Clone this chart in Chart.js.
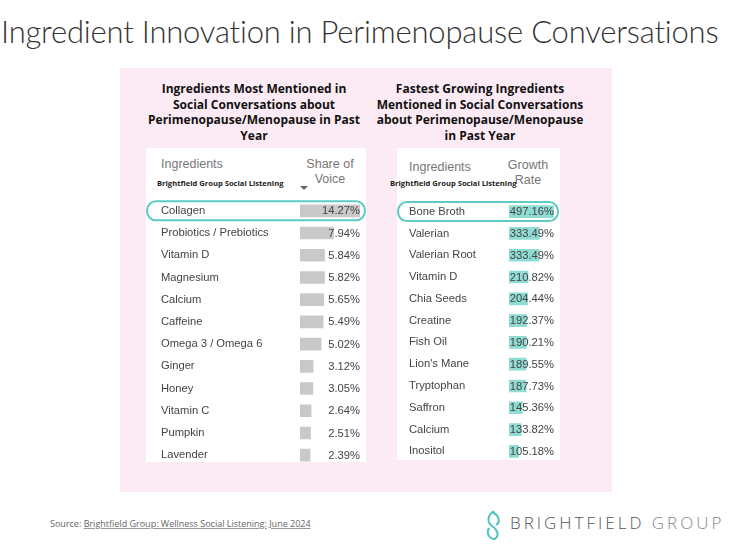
<!DOCTYPE html>
<html>
<head>
<meta charset="utf-8">
<script src="https://cdn.jsdelivr.net/npm/chart.js@4.4.1/dist/chart.umd.min.js"></script>
<style>
  body { margin: 0; width: 731px; height: 548px; background: #fff; position: relative; overflow: hidden; font-family: 'Liberation Sans', Arial, sans-serif; }
  .abs { position: absolute; }
  #title { left: 1px; top: 12px; font-family: Lato, sans-serif; font-weight: 300; font-size: 31px; color: #333; white-space: nowrap; letter-spacing: -0.2px; }
  #panel { left: 120px; top: 68px; width: 492px; height: 424px; background: #fcebf4; }
  .sub { font-family: 'Open Sans', sans-serif; font-weight: 700; font-size: 12px; line-height: 15.7px; color: #111; text-align: center; }
  .box { background: #fff; }
  .hdr { color: #777; font-size: 12.5px; line-height: 15px; }
  .small { font-family: 'Open Sans', sans-serif; font-weight: 700; font-size: 7.6px; color: #222; white-space: nowrap; }
  #source { left: 50px; top: 517px; font-family: 'Open Sans', sans-serif; font-size: 9px; color: #666; white-space: nowrap; }
  #source u { text-decoration-color: #999; }
  #logo { top: 511px; font-family: 'Open Sans', sans-serif; font-weight: 300; font-size: 17px; letter-spacing: 3px; color: #555; white-space: nowrap; }
  canvas { position: absolute; }
</style>
</head>
<body>
<div id="title" class="abs">Ingredient Innovation in Perimenopause Conversations</div>
<div id="panel" class="abs"></div>

<div class="abs sub" style="left:146px; top:81px; width:216px;">Ingredients Most Mentioned in Social Conversations about Perimenopause/Menopause in Past Year</div>
<div class="abs sub" style="left:370px; top:81px; width:220px;">Fastest Growing Ingredients Mentioned in Social Conversations about Perimenopause/Menopause in Past Year</div>

<div class="abs box" style="left:146px; top:148px; width:220px; height:314px;"></div>
<div class="abs box" style="left:397px; top:148px; width:163px; height:312px;"></div>

<div class="abs hdr" style="left:161px; top:157px;">Ingredients</div>
<div class="abs hdr" style="left:300px; top:157px; width:60px; text-align:center;">Share of<br>Voice</div>
<div class="abs small" style="left:157px; top:178px;">Brightfield Group Social Listening</div>
<div class="abs" style="left:300px; top:186px; width:0; height:0; border-left:4px solid transparent; border-right:4px solid transparent; border-top:4px solid #666;"></div>

<div class="abs hdr" style="left:409px; top:160px;">Ingredients</div>
<div class="abs hdr" style="left:502px; top:158px; width:52px; text-align:center;">Growth<br>Rate</div>
<div class="abs small" style="left:390px; top:178px;">Brightfield Group Social Listening</div>

<canvas id="chartShare" style="left:146px; top:193px;" width="220" height="280"></canvas>
<canvas id="chartGrowth" style="left:397px; top:194px;" width="163" height="275"></canvas>

<div id="source" class="abs">Source: <u>Brightfield Group: Wellness Social Listening: June 2024</u></div>
<svg class="abs" style="left:484px; top:509px;" width="20" height="32" viewBox="0 0 20 32">
  <path d="M10 2 C3 6 3 14 8 17 C13 20 16 26 11 30 C5 30 2 24 5 19" fill="none" stroke="#4fc3bd" stroke-width="2"/>
  <path d="M8 3 C15 6 17 13 12 16" fill="none" stroke="#4fc3bd" stroke-width="2"/>
</svg>
<div id="logo" class="abs" style="left:510px;">BRIGHTFIELD <span style="color:#888;">GROUP</span></div>

<script>
// Share of voice (%)
const shareLabels = ['Collagen', 'Probiotics / Prebiotics', 'Vitamin D', 'Magnesium', 'Calcium', 'Caffeine',
  'Omega 3 / Omega 6', 'Ginger', 'Honey', 'Vitamin C', 'Pumpkin', 'Lavender'];
const shareValues = [14.27, 7.94, 5.84, 5.82, 5.65, 5.49, 5.02, 3.12, 3.05, 2.64, 2.51, 2.39];

// Growth rate (%)
const growthLabels = ['Bone Broth', 'Valerian', 'Valerian Root', 'Vitamin D', 'Chia Seeds', 'Creatine',
  'Fish Oil', "Lion's Mane", 'Tryptophan', 'Saffron', 'Calcium', 'Inositol'];
const growthValues = [497.16, 333.49, 333.49, 210.82, 204.44, 192.37, 190.21, 189.55, 187.73, 145.36, 133.82, 105.18];

const TEXT_FONT = '11.2px "Liberation Sans", Arial, sans-serif';
const TEXT_COLOR = '#444';
const HIGHLIGHT = '#5ec9c6';

// draws the % labels and the rounded outline around the top row
const valueLabels = {
  id: 'valueLabels',
  afterDatasetsDraw(chart) {
    const ctx = chart.ctx;
    const area = chart.chartArea;
    const yScale = chart.scales.y;
    const vals = chart.data.datasets[0].data;
    ctx.save();
    ctx.font = TEXT_FONT;
    ctx.fillStyle = TEXT_COLOR;
    ctx.textAlign = 'right';
    ctx.textBaseline = 'middle';
    vals.forEach((v, i) => {
      ctx.fillText(v.toFixed(2) + '%', area.right, yScale.getPixelForValue(i) + 0.5);
    });
    // highlight first row
    const y0 = yScale.getPixelForValue(0);
    const opts = chart.options.plugins.valueLabels;
    ctx.strokeStyle = HIGHLIGHT;
    ctx.lineWidth = 2;
    ctx.beginPath();
    ctx.roundRect(opts.boxLeft, y0 - 9.5, chart.width - opts.boxLeft - opts.boxRight, 19, 9);
    ctx.stroke();
    ctx.restore();
  }
};

function makeChart(id, labels, values, color, axisWidth, padLeft, padRight, boxLeft, boxRight) {
  return new Chart(document.getElementById(id), {
    type: 'bar',
    data: {
      labels: labels,
      datasets: [{
        data: values,
        backgroundColor: color,
        borderWidth: 0,
        barThickness: 12
      }]
    },
    options: {
      indexAxis: 'y',
      responsive: false,
      animation: false,
      layout: { padding: { left: padLeft, right: padRight, top: 0, bottom: 0 } },
      plugins: {
        legend: { display: false },
        tooltip: { enabled: false },
        valueLabels: { boxLeft: boxLeft, boxRight: boxRight }
      },
      scales: {
        x: { display: false, min: 0, max: Math.max(...values) },
        y: {
          grid: { display: false },
          border: { display: false },
          ticks: { crossAlign: 'far', padding: 0, color: TEXT_COLOR, font: { family: '"Liberation Sans", Arial, sans-serif', size: 11.2 } },
          afterFit(scale) { scale.width = axisWidth; }
        }
      }
    },
    plugins: [valueLabels]
  });
}

makeChart('chartShare', shareLabels, shareValues, '#c9c9c9', 139, 15, 6, 1, 1);
makeChart('chartGrowth', growthLabels, growthValues, '#8fdcd5', 100, 12, 6, 1, 2);
</script>
</body>
</html>
